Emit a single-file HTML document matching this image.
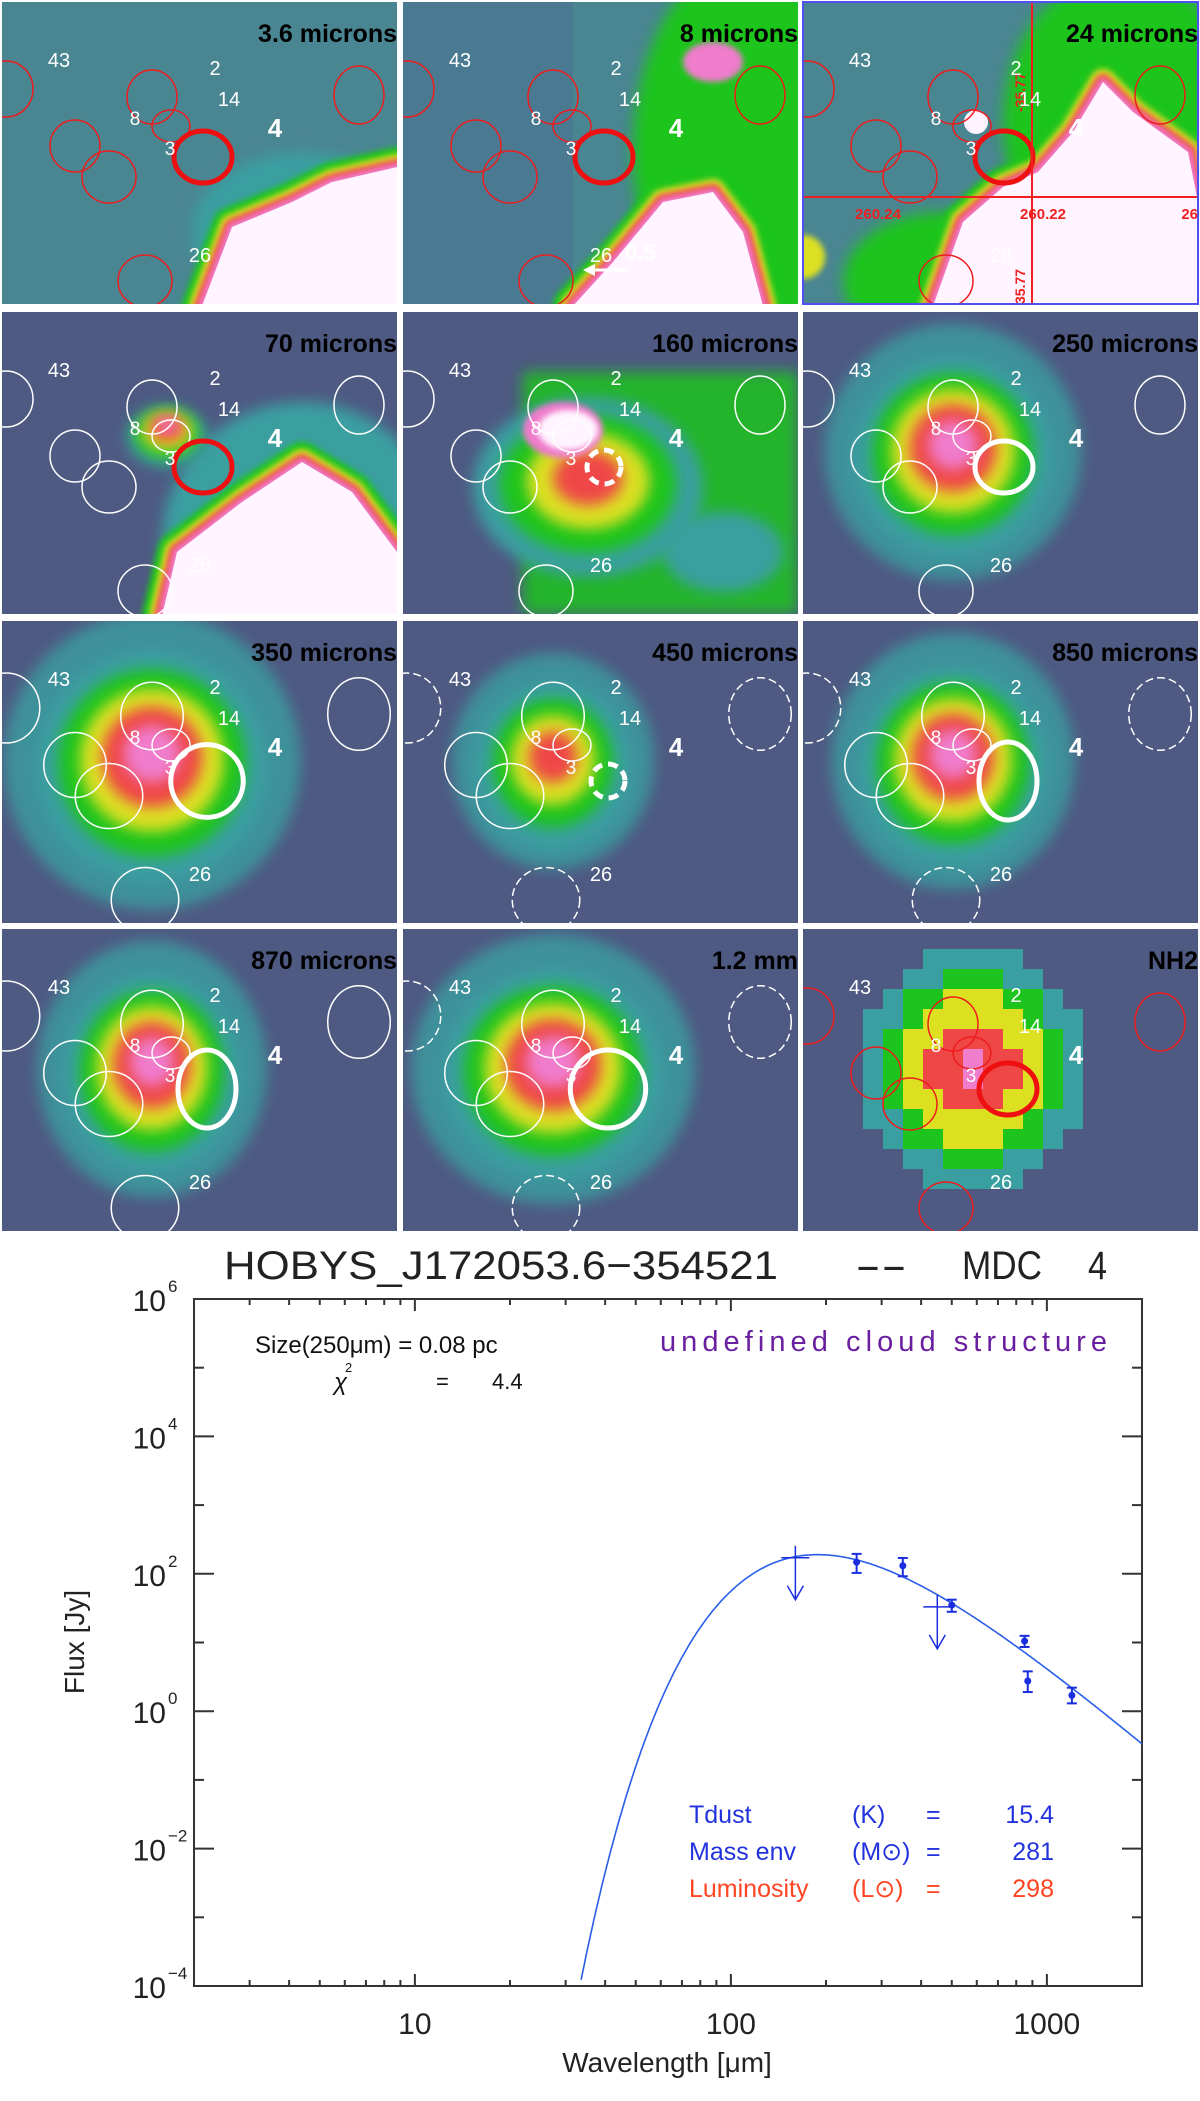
<!DOCTYPE html>
<html><head><meta charset="utf-8"><title>HOBYS MDC 4 SED</title>
<style>
html,body{margin:0;padding:0;background:#fff;}
svg{display:block;}
text{font-family:"Liberation Sans","DejaVu Sans",sans-serif;}
</style></head>
<body>
<svg id="fig" xmlns="http://www.w3.org/2000/svg" width="1200" height="2101" viewBox="0 0 1200 2101">
<defs>
<filter id="bl" x="-30%" y="-30%" width="160%" height="160%"><feGaussianBlur stdDeviation="7"/></filter>
<filter id="bl2" x="-30%" y="-30%" width="160%" height="160%"><feGaussianBlur stdDeviation="3"/></filter>
</defs>
<g id="panels"></g>
<g id="chart"></g>
</svg>
<script>
// ===== SED data =====
const wavelengths = [250, 350, 500, 850, 870, 1200];
const fluxes = [148, 131, 35, 10.5, 2.75, 1.7];
const errLow = [103, 92, 28, 8.6, 1.9, 1.3];
const errHigh = [195, 170, 42, 12.5, 3.8, 2.2];
const upperLimitWl = [160, 450];
const upperLimitFlux = [171, 33];
const modelTdust = [15.4];
const modelBeta = [2];
const modelPeakFlux = [190];
const xTickLabels = ["10", "100", "1000"];
const xTickValues = [10, 100, 1000];
const yTickExp = [6, 4, 2, 0, -2, -4];

const NS = "http://www.w3.org/2000/svg";
function el(tag, attrs, parent, txt) {
  const e = document.createElementNS(NS, tag);
  for (const k in attrs) e.setAttribute(k, attrs[k]);
  if (txt !== undefined) e.textContent = txt;
  parent.appendChild(e);
  return e;
}

// ===== Panels =====
const P = document.getElementById("panels");
const colX = [2, 403, 803], rowY = [2, 312, 621, 929];
const PW = 395, PH = 302;
const C = {slate:"#4e5a82", teal:"#3a9fa0", green:"#1ec41e", yellow:"#dce020", red:"#ef4646", pink:"#f07ccc", white:"#fff4ff"};
const titles = ["3.6 microns","8 microns","24 microns","70 microns","160 microns","250 microns","350 microns","450 microns","850 microns","870 microns","1.2 mm","NH2"];

function core(g, cx, cy, rx, ry, levels) {
  const seq = [C.teal, C.green, C.yellow, C.red, C.pink, C.white];
  for (let i = 0; i < levels; i++) {
    const f = 1 - i / (levels + 0.3);
    el("ellipse", {cx:cx, cy:cy - i*3, rx:rx*f, ry:ry*f, fill:seq[i], filter:"url(#bl)"}, g);
  }
}
function region(g, pts) {
  const seq = [[C.green,40],[C.yellow,26],[C.red,16],[C.pink,8]];
  seq.forEach(s => el("polygon", {points:pts, fill:s[0], stroke:s[0], "stroke-width":s[1], "stroke-linejoin":"round", filter:"url(#bl2)"}, g));
  el("polygon", {points:pts, fill:C.white}, g);
}

const ellBase = [[4,87,27,28],[150,95,25,27],[169,124,19,16],[73,144,25,26],[107,175,27,26],[357,93,25,29],[143,279,27,26]];
const mainEll = [201,155,29,26];

for (let i = 0; i < 12; i++) {
  const c = i % 3, r = Math.floor(i / 3);
  const g = el("g", {transform:`translate(${colX[c]},${rowY[r]})`}, P);
  
  
  const cp = el("clipPath", {id:"cp"+i}, g);
  el("rect", {x:0, y:0, width:PW, height:PH}, cp);
  const b = el("g", {"clip-path":`url(#cp${i})`}, g);
  const bg = (i < 3) ? "#4a8592" : C.slate;
  el("rect", {x:0, y:0, width:PW, height:PH, fill:bg}, b);
  if (i === 0) {
    el("ellipse", {cx:300, cy:230, rx:110, ry:80, fill:C.teal, filter:"url(#bl)"}, b);
    region(b, "200,304 230,225 290,200 330,180 395,165 395,304");
  } else if (i === 1) {
    el("rect", {x:0, y:0, width:170, height:PH, fill:"#4a7a92"}, b);
    el("ellipse", {cx:340, cy:150, rx:110, ry:190, fill:C.green, filter:"url(#bl)"}, b);
    el("ellipse", {cx:310, cy:60, rx:30, ry:20, fill:C.pink, filter:"url(#bl2)"}, b);
    region(b, "170,304 210,260 260,200 310,190 340,230 360,304");
  } else if (i === 2) {
    el("ellipse", {cx:320, cy:120, rx:120, ry:150, fill:C.green, filter:"url(#bl)"}, b);
    el("ellipse", {cx:140, cy:280, rx:100, ry:70, fill:C.green, filter:"url(#bl)"}, b);
    region(b, "130,304 160,220 200,185 235,170 270,130 300,80 330,110 385,150 395,200 395,304");
    el("circle", {cx:173, cy:120, r:12, fill:C.white}, b);
    el("circle", {cx:0, cy:255, r:22, fill:C.yellow, filter:"url(#bl2)"}, b);
  } else if (i === 3) {
    el("ellipse", {cx:300, cy:230, rx:140, ry:140, fill:C.teal, filter:"url(#bl)"}, b);
    region(b, "160,304 175,240 240,190 300,150 350,180 395,240 395,304");
    core(b, 165, 125, 40, 30, 5);
  } else if (i === 4) {
    el("rect", {x:120, y:60, width:275, height:242, fill:C.green, filter:"url(#bl)", opacity:0.85}, b);
    el("ellipse", {cx:320, cy:240, rx:60, ry:40, fill:C.teal, filter:"url(#bl)"}, b);
    core(b, 185, 175, 115, 90, 4);
    el("ellipse", {cx:160, cy:118, rx:40, ry:28, fill:C.pink, filter:"url(#bl2)"}, b);
    el("ellipse", {cx:165, cy:118, rx:30, ry:20, fill:C.white, filter:"url(#bl2)"}, b);
  } else if (i === 11) {
    const seq = [C.slate, C.teal, C.green, C.yellow, C.red, C.pink];
    for (let yy = 0; yy < 302; yy += 20) for (let xx = 0; xx < 395; xx += 20) {
      const d = Math.hypot((xx-160)/95, (yy-130)/105);
      const lvl = Math.max(0, Math.min(5, Math.round(5.3 - d*4)));
      el("rect", {x:xx, y:yy, width:20, height:20, fill:seq[lvl]}, b);
    }
  } else {
    const sz = [0,0,0,0,0, [95,95,5],[110,110,5],[75,80,4],[90,95,5],[85,95,5],[105,100,5]][i];
    el("ellipse", {cx:150, cy:140, rx:sz[0]*1.35, ry:sz[1]*1.35, fill:C.teal, filter:"url(#bl)", opacity:0.8}, b);
    core(b, 150, 145, sz[0]*1.05, sz[1]*1.05, sz[2]);
  }
  if (i === 2) {
    el("line", {x1:0, y1:195, x2:PW, y2:195, stroke:"#ee2020", "stroke-width":2}, g);
    el("line", {x1:229, y1:0, x2:229, y2:PH, stroke:"#ee2020", "stroke-width":2}, g);
    el("text", {x:75, y:217, fill:"#ee2020", "font-size":15, "font-weight":"bold", "text-anchor":"middle"}, g, "260.24");
    el("text", {x:240, y:217, fill:"#ee2020", "font-size":15, "font-weight":"bold", "text-anchor":"middle"}, g, "260.22");
    el("text", {x:395, y:217, fill:"#ee2020", "font-size":15, "font-weight":"bold", "text-anchor":"end"}, g, "26");
    el("text", {x:0, y:0, fill:"#ee2020", "font-size":14, "font-weight":"bold", transform:"translate(222,110) rotate(-90)"}, g, "-35.77");
    el("text", {x:0, y:0, fill:"#ee2020", "font-size":14, "font-weight":"bold", transform:"translate(222,302) rotate(-90)"}, g, "35.77");
    el("rect", {x:0, y:0, width:PW, height:PH, fill:"none", stroke:"#5050f0", "stroke-width":2}, g);
  }
  const red = (i < 3 || i === 11);
  const col = red ? "#ee1c1c" : "#ffffff";
  ellBase.forEach((e, k) => {
    const s = (i >= 6 && i <= 10 && k !== 2) ? 1.25 : 1;
    const ee = el("ellipse", {cx:e[0], cy:e[1], rx:e[2]*s, ry:e[3]*s, fill:"none", stroke:col, "stroke-width":1.5}, b);
    if (!red && (i===7||i===8||i===10) && (k===0||k===5||k===6)) ee.setAttribute("stroke-dasharray", "8 4");
  });
  const m = el("ellipse", {cx:mainEll[0]+(i>=6?4:0), cy:mainEll[1]+(i>=6?5:0), rx:mainEll[2]*(i===6?1.25:i===10?1.3:1), ry:mainEll[3]*(i>=8&&i<=10?1.5:i===6?1.4:1), fill:"none", stroke:(red||i===3)?"#ee1010":"#ffffff", "stroke-width":5}, b);
  
  
  if (i === 4 || i === 7) { m.setAttribute("stroke-dasharray", "10 6"); m.setAttribute("rx", 17); m.setAttribute("ry", 17); }
  if (i === 1) {
    el("line", {x1:225, y1:268, x2:190, y2:268, stroke:"#fff", "stroke-width":3}, g);
    el("polygon", {points:"180,268 192,262 192,274", fill:"#fff"}, g);
    el("text", {x:222, y:258, fill:"#fff", "font-size":22, "font-weight":"bold", "font-family":"Liberation Serif, serif"}, g, "0.5");
  }
  const labs = [["43",57,65,20,false],["2",213,73,20,false],["14",227,104,20,false],["8",133,123,19,false],["3",168,153,19,false],["4",273,135,26,true],["26",198,260,20,false]];
  labs.forEach(l => {
    const t = el("text", {x:l[1], y:l[2], fill:"#fff", "font-size":l[3], "font-weight":l[4]?"bold":"normal", "text-anchor":"middle"}, g, l[0]);
    
    
  });
  const tt = el("text", {x:PW, y:40, fill:"#000", "font-size":25, "font-weight":"bold", "text-anchor":"end"}, g, titles[i]);
  
  
}

// ===== Chart =====
const G = document.getElementById("chart");
const X0 = 194, X1 = 1142, Y0 = 1299, Y1 = 1986;
const lxMin = Math.log10(2), lxMax = Math.log10(2000), lyMin = -4, lyMax = 6;
function xs(w) { return X0 + (Math.log10(w) - lxMin) / (lxMax - lxMin) * (X1 - X0); }
function ys(f) { return Y1 - (Math.log10(f) - lyMin) / (lyMax - lyMin) * (Y1 - Y0); }
const ax = "#333";

const frame = el("rect", {x:X0, y:Y0, width:X1-X0, height:Y1-Y0, fill:"none", stroke:ax, "stroke-width":2}, G);



for (let d = 0; d <= 3; d++) for (let m = 1; m <= 9; m++) {
  const w = m * Math.pow(10, d);
  if (w < 2 || w > 2000) continue;
  const x = xs(w), L = (m === 1) ? 12 : 6;
  el("line", {x1:x, y1:Y1, x2:x, y2:Y1-L, stroke:ax, "stroke-width":2}, G);
  el("line", {x1:x, y1:Y0, x2:x, y2:Y0+L, stroke:ax, "stroke-width":2}, G);
}
xTickValues.forEach((v, k) => {
  const t = el("text", {x:xs(v), y:2034, "font-size":30, fill:"#222", "text-anchor":"middle"}, G, xTickLabels[k]);
  
  
});
for (let e = lyMin; e <= lyMax; e++) {
  const y = ys(Math.pow(10, e)), L = (e % 2 === 0) ? 20 : 10;
  el("line", {x1:X0, y1:y, x2:X0+L, y2:y, stroke:ax, "stroke-width":2}, G);
  el("line", {x1:X1, y1:y, x2:X1-L, y2:y, stroke:ax, "stroke-width":2}, G);
}
yTickExp.forEach(e => {
  const y = ys(Math.pow(10, e));
  const t = el("text", {x:166, y:y+12, "font-size":30, fill:"#222", "text-anchor":"end"}, G, "10");
  
  
  el("text", {x:168, y:y-7, "font-size":17, fill:"#222"}, G, e < 0 ? "\u2212" + (-e) : String(e));
});
const yt = el("text", {x:0, y:0, "font-size":28, fill:"#222", "text-anchor":"middle", transform:"translate(84,1642) rotate(-90)"}, G, "Flux [Jy]");


const xt = el("text", {x:667, y:2072, "font-size":28, fill:"#222", "text-anchor":"middle"}, G, "Wavelength [\u03bcm]");


const titleParts = [["HOBYS_J172053.6\u2212354521", 224, 554], ["--", 855, 52], ["MDC", 962, 80], ["4", 1088, 19]];
titleParts.forEach(p => {
  const ti = el("text", {x:p[1], y:1279, "font-size":40, fill:"#222", textLength:p[2], lengthAdjust:"spacingAndGlyphs"}, G, p[0]);
  
  
});

el("text", {x:255, y:1353, "font-size":24, fill:"#111"}, G, "Size(250\u03bcm) = 0.08 pc");
el("text", {x:334, y:1390, "font-size":24, fill:"#111", "font-style":"italic"}, G, "\u03c7");
el("text", {x:345, y:1372, "font-size":13, fill:"#111"}, G, "2");
el("text", {x:436, y:1389, "font-size":22, fill:"#111"}, G, "=");
el("text", {x:492, y:1389, "font-size":22, fill:"#111"}, G, "4.4");
const cs = el("text", {x:660, y:1351, "font-size":29, fill:"#6a1fa0", textLength:447}, G, "undefined cloud structure");


const params = [["Tdust", "(K)", "15.4", "#2233dd", 1823], ["Mass env", "(M\u2299)", "281", "#2233dd", 1860], ["Luminosity", "(L\u2299)", "298", "#ff4422", 1897]];
params.forEach(p => {
  const t = el("text", {x:689, y:p[4], "font-size":25, fill:p[3]}, G, p[0]);
  
  
  el("text", {x:852, y:p[4], "font-size":25, fill:p[3]}, G, p[1]);
  el("text", {x:926, y:p[4], "font-size":25, fill:p[3]}, G, "=");
  el("text", {x:1054, y:p[4], "font-size":25, fill:p[3], "text-anchor":"end"}, G, p[2]);
});

const T = modelTdust[0], beta = modelBeta[0];
function gb(l) { const x = 14388 / (l * T); return Math.pow(l, -(3 + beta)) / (Math.exp(x) - 1); }
let peak = 0;
for (let l = 20; l < 2000; l *= 1.01) peak = Math.max(peak, gb(l));
const norm = modelPeakFlux[0] / peak;
let d = "";
for (let lg = Math.log10(20); lg <= lxMax + 1e-9; lg += 0.005) {
  const l = Math.pow(10, lg), f = gb(l) * norm;
  if (f < 1e-4) continue;
  d += (d ? "L" : "M") + xs(l).toFixed(1) + "," + ys(f).toFixed(1);
}
const curve = el("path", {d:d, fill:"none", stroke:"#2a5ee8", "stroke-width":1.6}, G);



const blue = "#1a2ee0";
wavelengths.forEach((w, k) => {
  const x = xs(w);
  const g = el("g", {}, G);
  
  
  el("line", {x1:x, y1:ys(errLow[k]), x2:x, y2:ys(errHigh[k]), stroke:blue, "stroke-width":2}, g);
  el("line", {x1:x-5, y1:ys(errLow[k]), x2:x+5, y2:ys(errLow[k]), stroke:blue, "stroke-width":2}, g);
  el("line", {x1:x-5, y1:ys(errHigh[k]), x2:x+5, y2:ys(errHigh[k]), stroke:blue, "stroke-width":2}, g);
  el("circle", {cx:x, cy:ys(fluxes[k]), r:3.5, fill:blue}, g);
});
upperLimitWl.forEach((w, k) => {
  const x = xs(w), y = ys(upperLimitFlux[k]);
  const g = el("g", {}, G);
  
  
  el("line", {x1:x-14, y1:y, x2:x+14, y2:y, stroke:blue, "stroke-width":1.5}, g);
  el("line", {x1:x, y1:y-12, x2:x, y2:y+42, stroke:blue, "stroke-width":1.5}, g);
  el("polyline", {points:`${x-8},${y+28} ${x},${y+42} ${x+8},${y+28}`, fill:"none", stroke:blue, "stroke-width":1.5}, g);
});
</script>
</body></html>
